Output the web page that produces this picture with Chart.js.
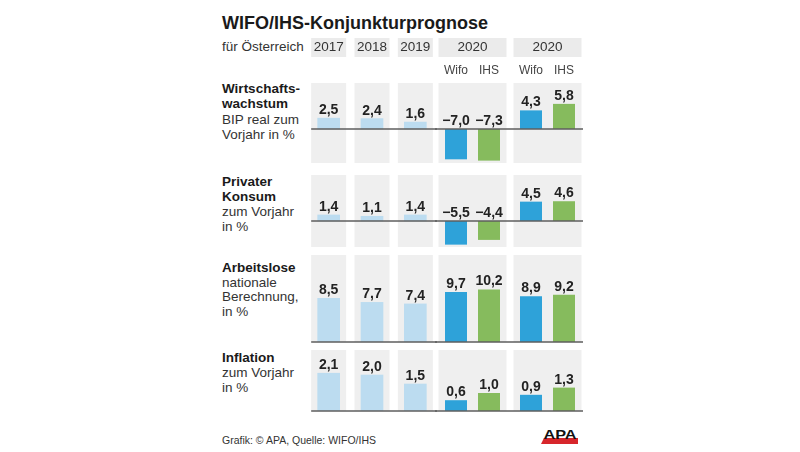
<!DOCTYPE html>
<html lang="de">
<head>
<meta charset="utf-8">
<title>WIFO/IHS-Konjunkturprognose</title>
<script src="https://cdn.jsdelivr.net/npm/chart.js@4.4.1/dist/chart.umd.min.js"></script>
<style>
  html, body { margin: 0; padding: 0; background: #fff; }
  body { width: 800px; height: 452px; position: relative; overflow: hidden;
         font-family: "Liberation Sans", Arial, sans-serif; color: #222; }
  canvas { position: absolute; }
  .txt { position: absolute; white-space: nowrap; }
  #title { left: 222px; top: 14px; font-size: 18px; line-height: 18px; font-weight: bold; color: #1a1a1a; }
  #sub { left: 222px; top: 40px; font-size: 13.5px; line-height: 13.5px; color: #333; }
  .rowlabel { position: absolute; left: 222px; font-size: 13.5px; color: #333; white-space: nowrap; }
  .rowlabel b { color: #1a1a1a; }
  #footer { left: 222px; top: 435px; font-size: 10.5px; line-height: 10.5px; color: #333; }
  #logo { position: absolute; left: 540px; top: 428px; width: 40px; height: 17px; }
  #logo .base { position: absolute; left: 1px; top: 10px; width: 37px; height: 6px; background: #d7262b;
                clip-path: polygon(8% 0, 100% 0, 100% 100%, 0 100%); }
  #logo .word { position: absolute; left: 1px; top: 0; width: 38px; text-align: center; font-size: 13px;
                line-height: 13px; font-weight: bold; color: #111; transform: scaleX(1.25); }
</style>
</head>
<body>
<div id="title" class="txt">WIFO/IHS-Konjunkturprognose</div>
<div id="sub" class="txt">für Österreich</div>
<div id="footer" class="txt">Grafik: © APA, Quelle: WIFO/IHS</div>
<div id="logo"><div class="base"></div><div class="word">APA</div></div>

<script>
"use strict"

	// categories
	var years = ['2017', '2018', '2019'];
	var progYears = ['2020', '2020'];
	var institutes = ['Wifo', 'IHS'];

	// row texts
	var rowTitles = [['Wirtschafts-', 'wachstum'], ['Privater', 'Konsum'], ['Arbeitslose'], ['Inflation']];
	var rowUnits = [['BIP real zum', 'Vorjahr in %'], ['zum Vorjahr', 'in %'], ['nationale', 'Berechnung,', 'in %'], ['zum Vorjahr', 'in %']];

	// values: past years, then Wifo / IHS forecasts
	var wachstumHist = [2.5, 2.4, 1.6];
	var wachstumWifo = [-7.0, 4.3];
	var wachstumIhs = [-7.3, 5.8];

	var konsumHist = [1.4, 1.1, 1.4];
	var konsumWifo = [-5.5, 4.5];
	var konsumIhs = [-4.4, 4.6];

	var arbeitsloseHist = [8.5, 7.7, 7.4];
	var arbeitsloseWifo = [9.7, 8.9];
	var arbeitsloseIhs = [10.2, 9.2];

	var inflationHist = [2.1, 2.0, 1.5];
	var inflationWifo = [0.6, 0.9];
	var inflationIhs = [1.0, 1.3];

	var histSeries = [wachstumHist, konsumHist, arbeitsloseHist, inflationHist];
	var wifoSeries = [wachstumWifo, konsumWifo, arbeitsloseWifo, inflationWifo];
	var ihsSeries = [wachstumIhs, konsumIhs, arbeitsloseIhs, inflationIhs];

	// layout of the rows (panel top/bottom in px, value range of each panel)
	var rowLayout = [
		{ top: 83, bottom: 163, min: -7.85, max: 10.62, labelTop: 80.5, lh: 15.5 },
		{ top: 175, bottom: 247, min: -6.05, max: 10.7, labelTop: 174.3, lh: 15 },
		{ top: 255, bottom: 342, min: 0, max: 16.9, labelTop: 261.2, lh: 14.5 },
		{ top: 350, bottom: 411, min: 0, max: 3.39, labelTop: 350, lh: 15 }
	];

	var histColor = '#bcdcf0';
	var wifoColor = '#2ea2d9';
	var ihsColor = '#86bb5d';
	var panelColor = '#efefef';
	var headerColor = '#ebebeb';
	var lineColor = '#5e5e5e';
	var fontFamily = '"Liberation Sans", Arial, sans-serif';

	Chart.defaults.font.family = fontFamily;

	function fmt(v) {
		var s = Math.abs(v).toFixed(1).replace('.', ',');
		return v < 0 ? '\u2212' + s : s;
	}

	// grey column panels behind the bars
	var panelPlugin = {
		id: 'apaPanels',
		beforeDatasetsDraw: function (chart, args, opts) {
			var ctx = chart.ctx, area = chart.chartArea, x = chart.scales.x;
			ctx.save();
			ctx.fillStyle = panelColor;
			chart.data.labels.forEach(function (l, i) {
				var cx = x.getPixelForValue(i);
				ctx.fillRect(cx - opts.width / 2, area.top, opts.width, area.bottom - area.top);
			});
			ctx.restore();
		}
	};

	// zero line, value labels and the header boxes of the first row
	var labelPlugin = {
		id: 'apaLabels',
		afterDatasetsDraw: function (chart, args, opts) {
			var ctx = chart.ctx, area = chart.chartArea, x = chart.scales.x, y = chart.scales.y;
			var y0 = y.getPixelForValue(0);
			ctx.save();
			ctx.strokeStyle = lineColor;
			ctx.lineWidth = 1.5;
			ctx.beginPath();
			ctx.moveTo(opts.lineFrom(chart), y0);
			ctx.lineTo(opts.lineTo(chart), y0);
			ctx.stroke();

			ctx.font = 'bold 14px ' + fontFamily;
			ctx.fillStyle = '#222';
			ctx.textAlign = 'center';
			ctx.textBaseline = 'alphabetic';
			chart.data.datasets.forEach(function (ds, di) {
				chart.getDatasetMeta(di).data.forEach(function (bar, i) {
					var v = ds.data[i];
					var ty = v >= 0 ? Math.min(bar.y, bar.base) - 4 : y0 - 4;
					ctx.fillText(fmt(v), bar.x, ty);
				});
			});

			if (opts.header) {
				ctx.textBaseline = 'middle';
				chart.data.labels.forEach(function (l, i) {
					var cx = x.getPixelForValue(i);
					ctx.fillStyle = headerColor;
					ctx.fillRect(cx - opts.width / 2, area.top - 45, opts.width, 19);
					ctx.fillStyle = '#333';
					ctx.font = '13.5px ' + fontFamily;
					ctx.fillText(l, cx, area.top - 35.5);
				});
				if (chart.data.datasets.length > 1) {
					ctx.font = '12px ' + fontFamily;
					ctx.fillStyle = '#444';
					chart.data.datasets.forEach(function (ds, di) {
						chart.getDatasetMeta(di).data.forEach(function (bar) {
							ctx.fillText(ds.label, bar.x, area.top - 12);
						});
					});
				}
			}
			ctx.restore();
		}
	};

	function makeCanvas(left, top, width, height) {
		var c = document.createElement('canvas');
		c.width = width;
		c.height = height;
		c.style.left = left + 'px';
		c.style.top = top + 'px';
		c.style.width = width + 'px';
		c.style.height = height + 'px';
		document.body.appendChild(c);
		return c;
	}

	function makeChart(canvas, labels, datasets, row, padTop, panelWidth, catPct, header, lineFrom, lineTo) {
		return new Chart(canvas.getContext('2d'), {
			type: 'bar',
			data: { labels: labels, datasets: datasets },
			options: {
				responsive: false,
				animation: false,
				events: [],
				layout: { padding: { top: padTop, bottom: 4, left: 0, right: 0 } },
				datasets: { bar: { categoryPercentage: catPct, barPercentage: 1, maxBarThickness: 22 } },
				scales: {
					x: { display: false, offset: true },
					y: { display: false, min: row.min, max: row.max }
				},
				plugins: {
					legend: { display: false },
					tooltip: { enabled: false },
					apaPanels: { width: panelWidth },
					apaLabels: { width: panelWidth, header: header, lineFrom: lineFrom, lineTo: lineTo }
				}
			},
			plugins: [panelPlugin, labelPlugin]
		});
	}

	rowLayout.forEach(function (row, r) {
		// row caption
		var div = document.createElement('div');
		div.className = 'rowlabel';
		div.style.top = row.labelTop + 'px';
		div.style.lineHeight = row.lh + 'px';
		div.innerHTML = rowTitles[r].map(function (t) { return '<b>' + t + '</b>'; }).join('<br>') +
			'<br>' + rowUnits[r].join('<br>');
		document.body.appendChild(div);

		var padTop = r === 0 ? 47 : 0;
		var h = padTop + (row.bottom - row.top) + 4;
		var canvasTop = row.top - padTop;

		var leftCanvas = makeCanvas(307, canvasTop, 130, h);
		makeChart(leftCanvas, years,
			[{ label: 'Vorjahre', data: histSeries[r], backgroundColor: histColor }],
			row, padTop, 35, 1, r === 0,
			function (c) { return c.scales.x.getPixelForValue(0) - 17.5; },
			function (c) { return c.width; });

		var rightCanvas = makeCanvas(435, canvasTop, 150, h);
		makeChart(rightCanvas, progYears,
			[{ label: institutes[0], data: wifoSeries[r], backgroundColor: wifoColor },
			 { label: institutes[1], data: ihsSeries[r], backgroundColor: ihsColor }],
			row, padTop, 68, 0.88, r === 0,
			function (c) { return 0; },
			function (c) { return c.scales.x.getPixelForValue(1) + 35.5; });
	});
</script>
</body>
</html>
